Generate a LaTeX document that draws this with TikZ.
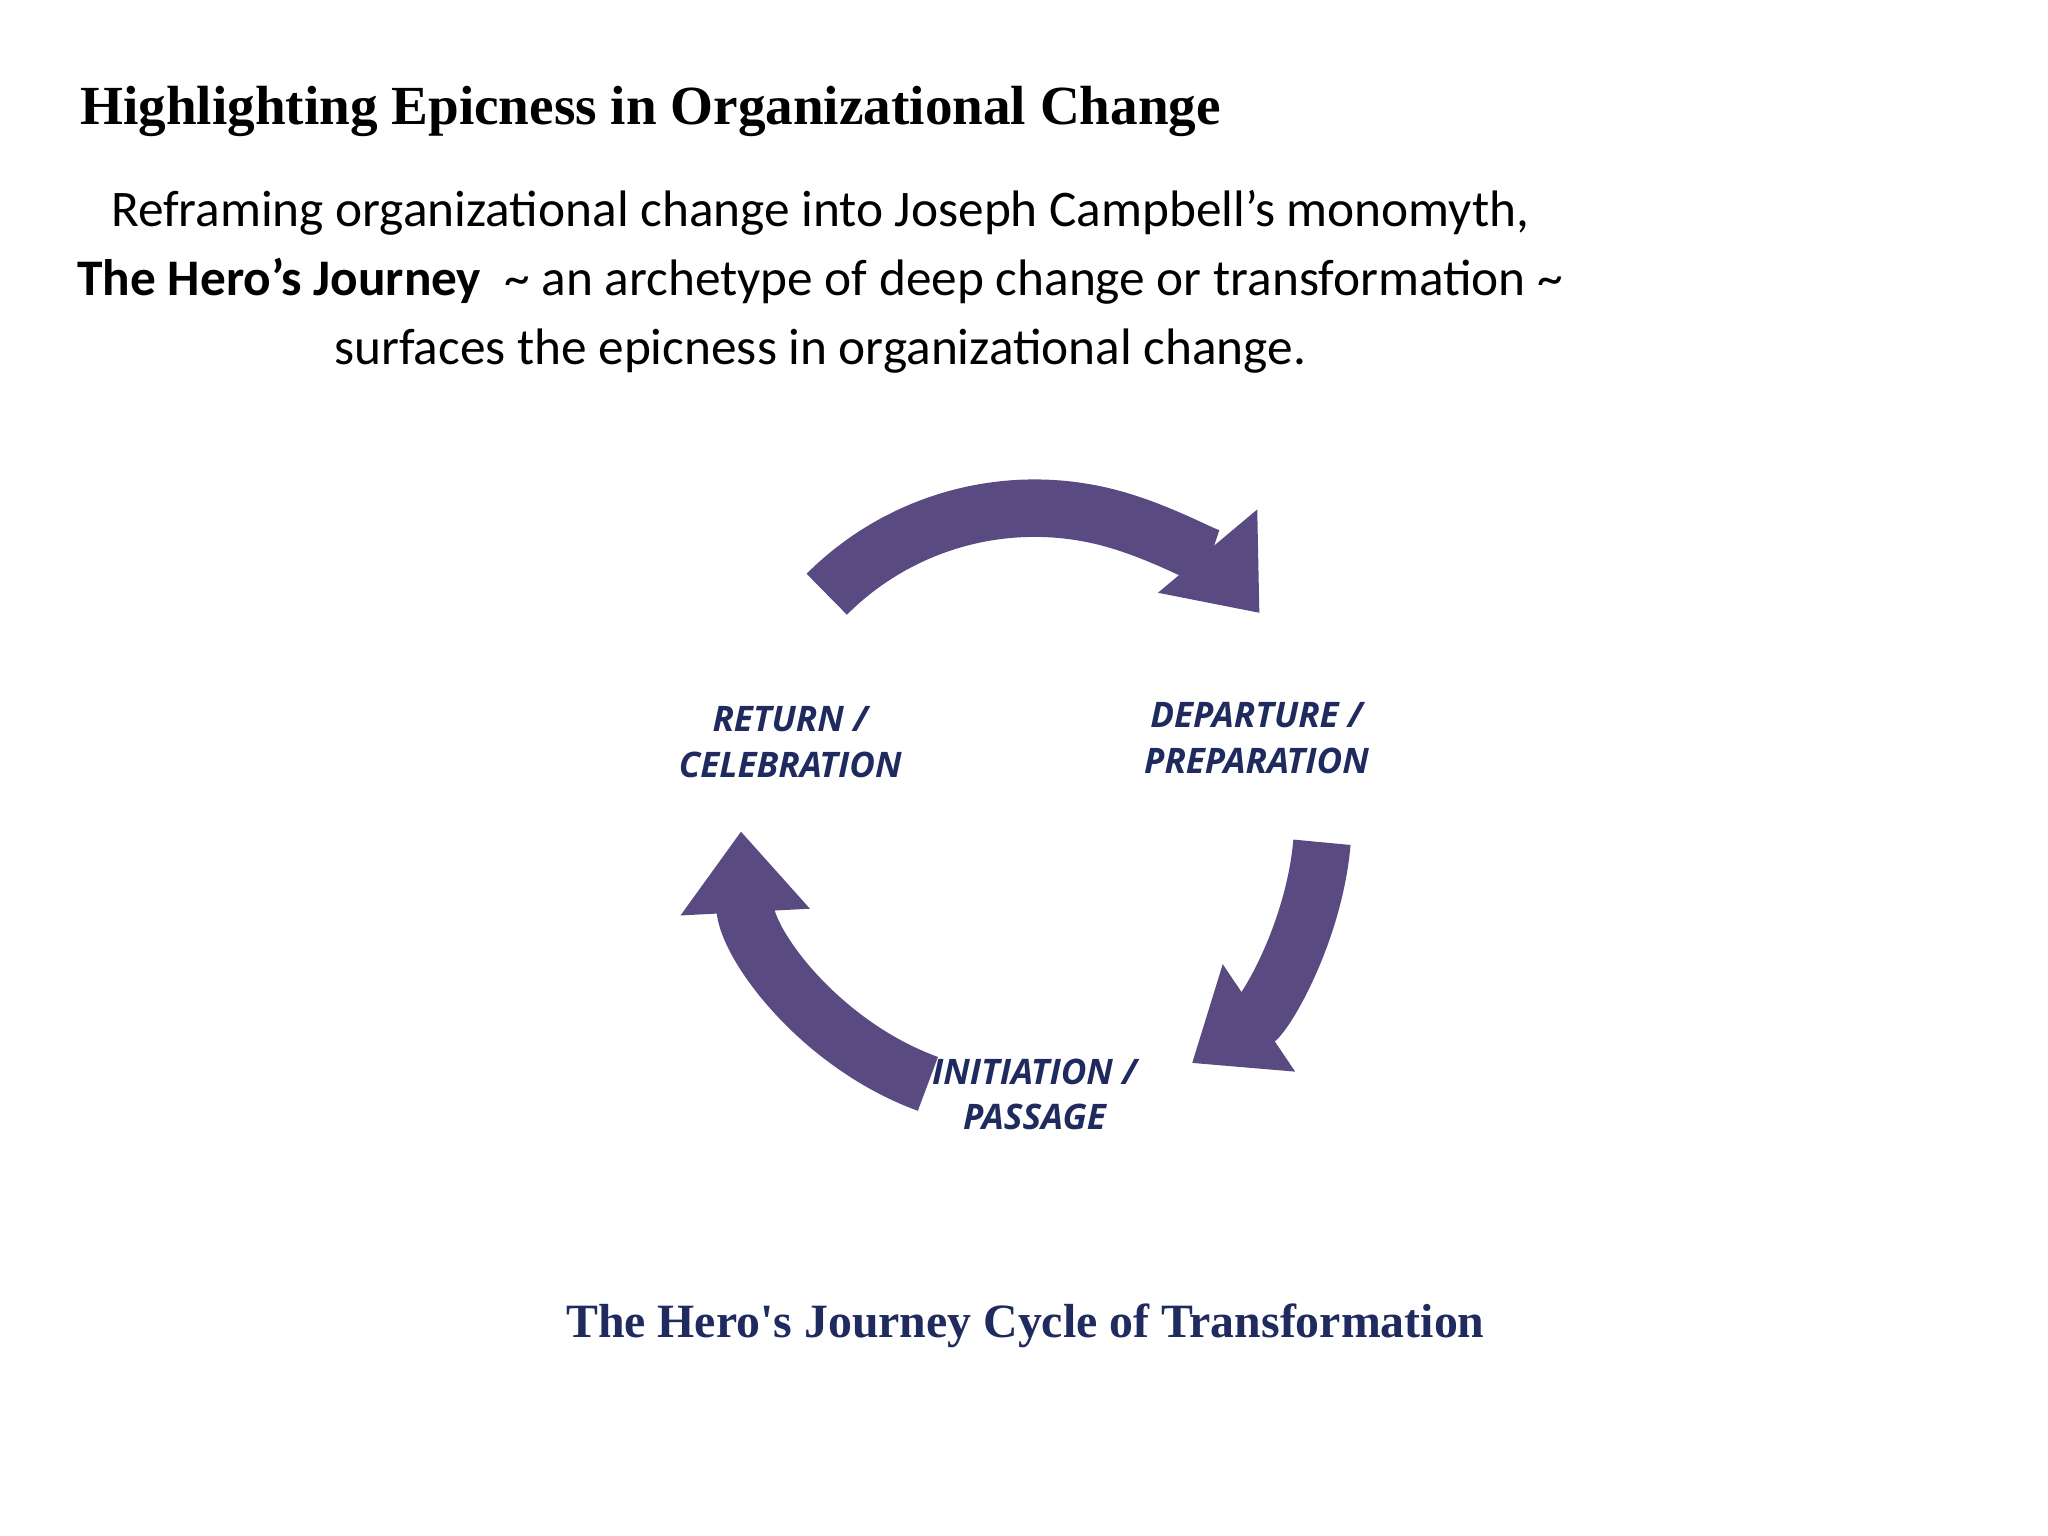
\documentclass[tikz,border=0pt]{standalone}
\usepackage{fontspec}
\setmainfont{Liberation Serif}
\newfontfamily\calfont{Carlito}
\newfontfamily\labfont{Open Sans}
\usetikzlibrary{arrows.meta}
\definecolor{purp}{HTML}{5A4A82}
\definecolor{navy}{HTML}{1F2A5E}
\begin{document}
\begin{tikzpicture}[x=0.01306cm,y=-0.01306cm,
  cyc/.style={line width=44*0.01306cm,draw=purp,-{Triangle[width=95*0.01306cm,length=62*0.01306cm]}},
  lbl/.style={font=\labfont\bfseries\itshape\fontsize{10}{13}\selectfont,text=navy,align=center}]
\useasboundingbox (0,0) rectangle (1568,1176);
\node[anchor=west,font=\bfseries\fontsize{15.7}{19}\selectfont] (title) at (52,85) {Highlighting Epicness in Organizational Change};
\node[align=center,font=\calfont\fontsize{14.6}{19.6}\selectfont] (sub) at (628,216) {Reframing organizational change into Joseph Campbell’s monomyth,\\ \textbf{The Hero’s Journey}\ \ \textasciitilde\ an archetype of deep change or transformation \textasciitilde\\ surfaces the epicness in organizational change.};
\coordinate (c) at (785,625);
\draw[cyc] ([shift={(-135:215)}]c) ++(0,-18) arc[start angle=-135,end angle=-40,radius=225];
\draw[cyc] ([shift={(5:228)}]c) arc[start angle=5,end angle=56,radius=228];
\draw[cyc] ([shift={(110:218)}]c) arc[start angle=110,end angle=177,radius=218];
\node[lbl] (ret) at (605,568) {RETURN /\\CELEBRATION};
\node[lbl] (dep) at (962,565) {DEPARTURE /\\PREPARATION};
\node[lbl] (ini) at (792,838) {INITIATION /\\PASSAGE};
\node[font=\bfseries\fontsize{13.6}{16}\selectfont,text=navy] (cap) at (785,1015) {The Hero\textquotesingle s Journey Cycle of Transformation};
\end{tikzpicture}
\end{document}
